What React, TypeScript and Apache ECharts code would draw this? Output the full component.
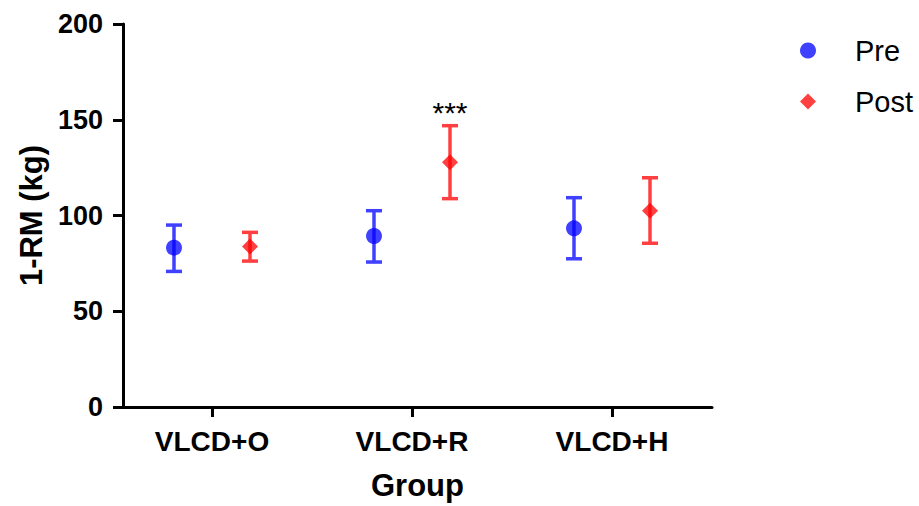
import React, { useEffect, useRef } from "react";
import * as echarts from "echarts";

const categories = ["VLCD+O", "VLCD+R", "VLCD+H"];
const categoryPositions = [1, 2, 3];
const groupOffset = 0.19;
const preMean = [83.2, 89.3, 93.3];
const preLow = [70.8, 75.7, 77.4];
const preHigh = [95.0, 102.5, 109.3];
const postMean = [83.8, 127.8, 102.5];
const postLow = [76.2, 108.8, 85.5];
const postHigh = [91.2, 146.9, 119.7];
const yTicks = [0, 50, 100, 150, 200];
const annotations = [{ group: 1, series: "Post", value: 154, text: "***" }];

const BLUE_SOLID = "#4040ff";
const BLUE = "rgba(0,0,255,0.75)";
const RED_SOLID = "#ff4040";
const RED = "rgba(255,0,0,0.75)";
const FONT = "'Liberation Sans', Arial, Helvetica, sans-serif";

function errorSeries(name: string, offset: number, low: number[], high: number[], color: string) {
  return {
    name: name + " SD",
    type: "custom",
    z: 2,
    encode: { x: 0, y: [1, 2] },
    data: categoryPositions.map((p, i) => [p + offset, low[i], high[i]]),
    renderItem: (params: any, api: any) => {
      const x = api.value(0);
      const pLo = api.coord([x, api.value(1)]);
      const pHi = api.coord([x, api.value(2)]);
      const hw = 8;
      const style = { stroke: color, lineWidth: 3.5, fill: "none" };
      return {
        type: "group",
        children: [
          { type: "line", shape: { x1: pLo[0], y1: pLo[1], x2: pHi[0], y2: pHi[1] }, style },
          { type: "line", shape: { x1: pLo[0] - hw, y1: pLo[1], x2: pLo[0] + hw, y2: pLo[1] }, style },
          { type: "line", shape: { x1: pHi[0] - hw, y1: pHi[1], x2: pHi[0] + hw, y2: pHi[1] }, style },
        ],
      };
    },
  };
}

export default function App() {
  const ref = useRef<HTMLDivElement>(null);
  useEffect(() => {
    if (!ref.current) return;
    const chart = echarts.init(ref.current, null, { renderer: "svg" });
    const option: any = {
      animation: false,
      backgroundColor: "#ffffff",
      textStyle: { fontFamily: FONT },
      grid: { left: 123, right: 207, top: 24, bottom: 99, containLabel: false },
      legend: {
        data: ["Pre", "Post"],
        orient: "vertical",
        left: 795,
        top: 31,
        itemWidth: 16,
        itemHeight: 16,
        itemGap: 22,
        textStyle: { fontSize: 29, color: "#000", fontFamily: FONT, padding: [0, 0, 0, 34], lineHeight: 29 },
      },
      xAxis: {
        type: "value",
        min: 0.555,
        max: 3.5,
        splitLine: { show: false },
        axisLine: { show: true, onZero: false, lineStyle: { color: "#000", width: 3 } },
        axisTick: { show: true, length: 10, lineStyle: { color: "#000", width: 3 }, customValues: categoryPositions },
        axisLabel: {
          customValues: categoryPositions,
          formatter: (v: number) => categories[Math.round(v) - 1] ?? "",
          fontSize: 28,
          fontWeight: "bold",
          color: "#000",
          margin: 20,
          fontFamily: FONT,
        },
        name: "Group",
        nameLocation: "middle",
        nameGap: 63,
        nameTextStyle: { fontSize: 31, fontWeight: "bold", color: "#000", fontFamily: FONT },
      },
      yAxis: {
        type: "value",
        min: 0,
        max: 200,
        interval: 50,
        splitLine: { show: false },
        axisLine: { show: true, lineStyle: { color: "#000", width: 3 } },
        axisTick: { show: true, length: 10, lineStyle: { color: "#000", width: 3 } },
        axisLabel: {
          fontSize: 27,
          fontWeight: "bold",
          color: "#000",
          margin: 20,
          fontFamily: FONT,
          formatter: (v: number) => (yTicks.includes(v) ? String(v) : ""),
        },
        name: "1-RM (kg)",
        nameLocation: "middle",
        nameGap: 76,
        nameTextStyle: { fontSize: 31, fontWeight: "bold", color: "#000", fontFamily: FONT },
      },
      series: [
        errorSeries("Pre", -groupOffset, preLow, preHigh, BLUE_SOLID),
        errorSeries("Post", groupOffset, postLow, postHigh, RED_SOLID),
        {
          name: "Pre",
          type: "scatter",
          z: 3,
          symbol: "circle",
          symbolSize: 16,
          itemStyle: { color: BLUE, opacity: 1 },
          data: categoryPositions.map((p, i) => [p - groupOffset, preMean[i]]),
        },
        {
          name: "Post",
          type: "scatter",
          z: 3,
          symbol: "diamond",
          symbolSize: 16,
          itemStyle: { color: RED, opacity: 1 },
          data: categoryPositions.map((p, i) => [p + groupOffset, postMean[i]]),
        },
        {
          name: "annotations",
          type: "scatter",
          symbolSize: 1,
          silent: true,
          itemStyle: { color: "rgba(0,0,0,0)", opacity: 1 },
          label: {
            show: true,
            position: "inside",
            formatter: (p: any) => p.data[2],
            fontSize: 30,
            color: "#000",
            fontFamily: FONT,
          },
          data: annotations.map((a) => [
            categoryPositions[a.group] + (a.series === "Post" ? groupOffset : -groupOffset),
            a.value,
            a.text,
          ]),
        },
      ],
    };
    chart.setOption(option);
    return () => chart.dispose();
  }, []);
  return <div ref={ref} style={{ position: "fixed", left: 0, top: 0, width: 919, height: 506 }} />;
}
